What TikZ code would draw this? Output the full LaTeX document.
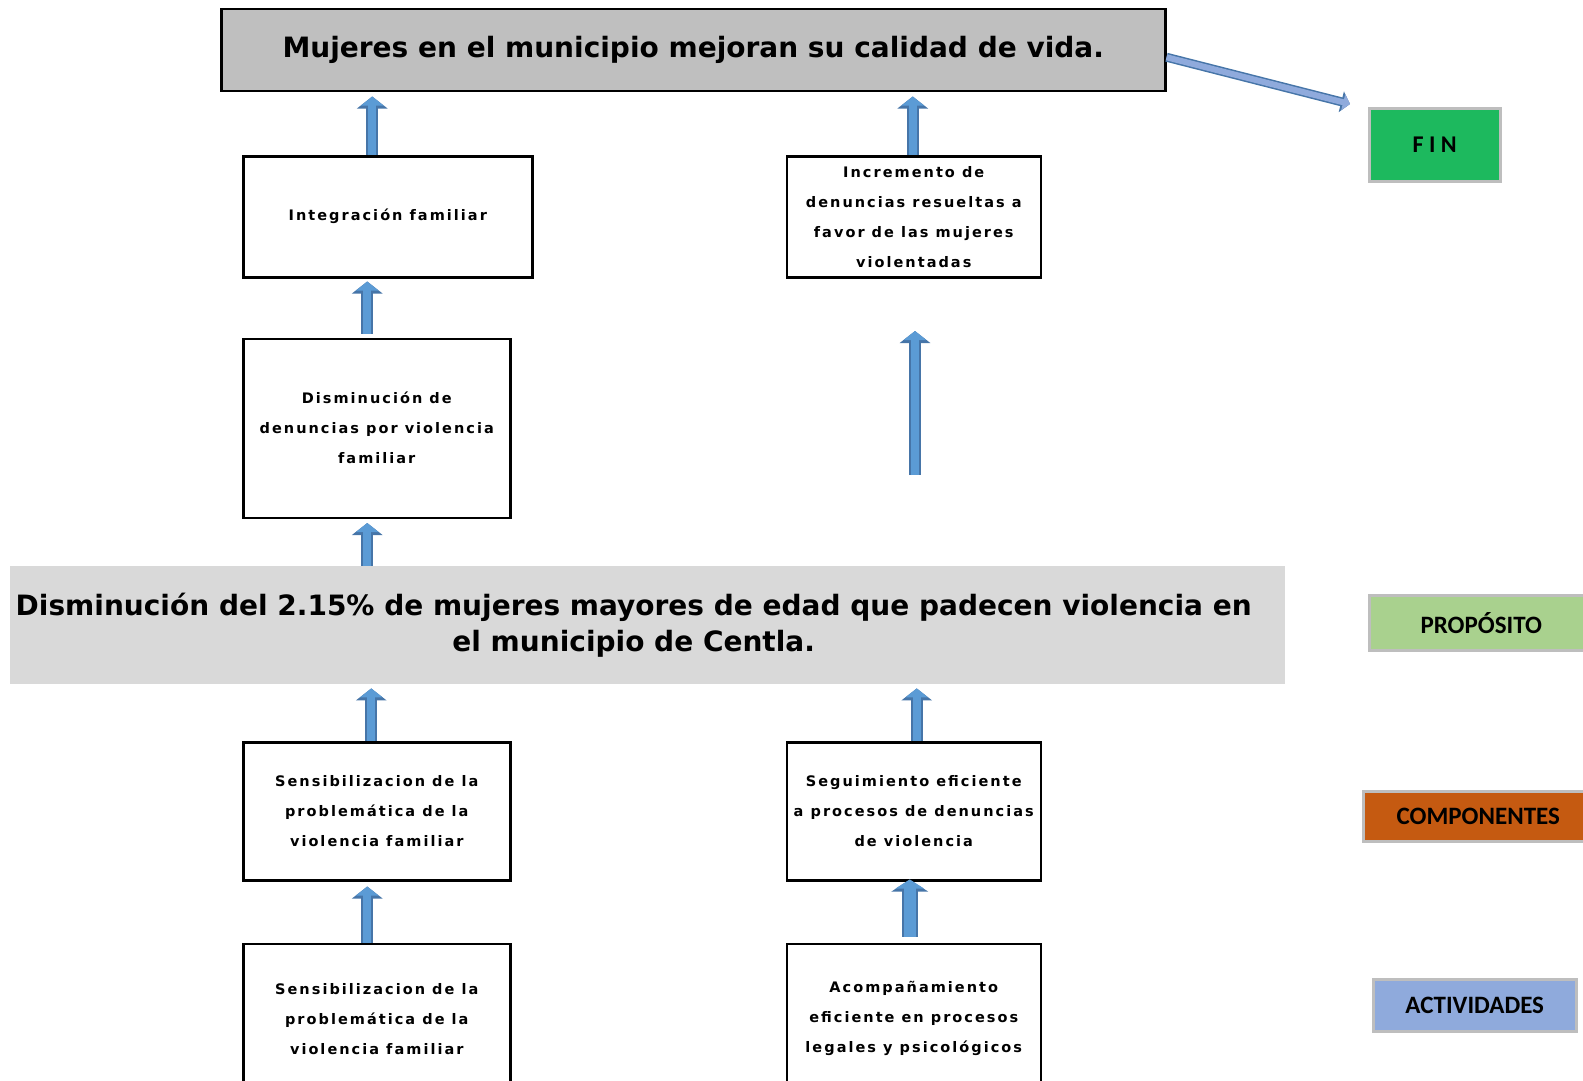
\documentclass[tikz,border=0pt]{standalone}
\usepackage{fontspec}
\usetikzlibrary{positioning}
\usetikzlibrary{arrows.meta}
\newfontfamily\boxfont{DejaVu Sans}[LetterSpace=14]
\newfontfamily\headfont{DejaVu Sans}
\newfontfamily\tagfont{Carlito}
\definecolor{goalgray}{RGB}{191,191,191}
\definecolor{purposegray}{RGB}{217,217,217}
\definecolor{tagborder}{RGB}{190,190,190}
\definecolor{fingreen}{RGB}{29,185,94}
\definecolor{propgreen}{RGB}{169,209,142}
\definecolor{comporange}{RGB}{197,90,17}
\definecolor{actblue}{RGB}{143,170,220}
\definecolor{afill}{RGB}{91,155,213}
\definecolor{aedge}{RGB}{70,117,168}
\definecolor{dfill}{RGB}{143,170,220}

\begin{document}
\begin{tikzpicture}[x=1pt, y=-1pt,
    box/.style={draw, line width=2.5pt, fill=white, inner sep=0pt, align=center,
        font=\boxfont\bfseries\fontsize{14.5}{30}\selectfont},
    headbox/.style={inner sep=0pt, align=center, font=\headfont\bfseries\fontsize{28}{36}\selectfont},
    tag/.style={draw=tagborder, line width=2.5pt, inner sep=0pt, font=\tagfont\bfseries\fontsize{25}{30}\selectfont},
    arrow/.style={line width=8pt, draw=afill, -{Triangle[length=9pt,width=22pt]},
        preaction={draw=aedge, line width=12pt, -{Triangle[length=12pt,width=30pt]}}},
    widearrow/.style={line width=12pt, draw=afill, -{Triangle[length=9pt,width=28pt]},
        preaction={draw=aedge, line width=16pt, -{Triangle[length=12pt,width=36pt]}}},
    diagarrow/.style={line width=6pt, draw=dfill, -{Triangle[length=7pt,width=16pt]},
        preaction={draw=aedge, line width=9pt, -{Triangle[length=9pt,width=21pt]}}},
]
\useasboundingbox (0,0) rectangle (1583,1081);

% fin
\node[headbox, draw, line width=2.5pt, fill=goalgray, minimum width=944pt, minimum height=82pt, anchor=north west] (goal) at (220,8) {Mujeres en el municipio mejoran su calidad de vida.};
\node[box, minimum width=289pt, minimum height=121pt, anchor=north west] (integ) at (242,155) {Integración familiar};
\node[box, minimum width=254pt, minimum height=121pt, right=252pt of integ] (incr) {Incremento de\\denuncias resueltas a\\favor de las mujeres\\violentadas};
\node[box, minimum width=267pt, minimum height=179pt, below=59pt of integ.south west, anchor=north west] (dismin) {Disminución de\\denuncias por violencia\\familiar};

% proposito
\node[headbox, fill=purposegray, minimum width=1275pt, minimum height=118pt, anchor=north west] (purpose) at (10,566) {\hspace*{-28pt}Disminución del 2.15\% de mujeres mayores de edad que padecen violencia en\\\hspace*{-28pt}el municipio de Centla.};

% componentes y actividades
\node[box, minimum width=267pt, minimum height=138pt, anchor=north west] (sens1) at (242,741) {Sensibilizacion de la\\problemática de la\\violencia familiar};
\node[box, minimum width=254pt, minimum height=138pt, right=274pt of sens1] (segu) {Seguimiento eficiente\\a procesos de denuncias\\de violencia};
\node[box, minimum width=267pt, minimum height=150pt, below=61pt of sens1.south west, anchor=north west] (sens2) {Sensibilizacion de la\\problemática de la\\violencia familiar};
\node[box, minimum width=254pt, minimum height=150pt, right=274pt of sens2] (acomp) {Acompañamiento\\eficiente en procesos\\legales y psicológicos};

% etiquetas
\node[tag, fill=fingreen, minimum width=131pt, minimum height=73pt, anchor=north west, font=\tagfont\bfseries\fontsize{24}{28}\selectfont] (fin) at (1368,107) {F I N};
\node[tag, fill=propgreen, minimum width=224pt, minimum height=55pt, anchor=north west] (proplabel) at (1368,594) {PROPÓSITO};
\node[tag, fill=comporange, minimum width=230pt, minimum height=50pt, anchor=north west] (complabel) at (1362,790) {COMPONENTES};
\node[tag, fill=actblue, minimum width=203pt, minimum height=52pt, anchor=north west] (actlabel) at (1372,978) {ACTIVIDADES};

\coordinate (freestart) at (915,475);
\coordinate (freeend) at (915,331);

\draw[diagarrow] ([yshift=-7pt]goal.east) -- ([xshift=-18pt,yshift=3pt]fin.north west);
\draw[arrow] ([xshift=-15.5pt]integ.north) -- ([xshift=-15.5pt,yshift=-4pt]integ.north |- goal.south);
\draw[arrow] ([xshift=-1pt]incr.north) -- ([xshift=-1pt,yshift=-4pt]incr.north |- goal.south);
\draw[arrow] ([xshift=-9.5pt,yshift=4pt]dismin.north) -- ([xshift=-9.5pt,yshift=-3pt]dismin.north |- integ.south);
\draw[arrow] (freestart) -- (freeend);
\draw[arrow] ([xshift=-9.5pt]dismin.south |- purpose.north) -- ([xshift=-9.5pt,yshift=-4pt]dismin.south);
\draw[arrow] ([xshift=-5.5pt]sens1.north) -- ([xshift=-5.5pt,yshift=-4pt]sens1.north |- purpose.south);
\draw[arrow] ([xshift=3pt]segu.north) -- ([xshift=3pt,yshift=-4pt]segu.north |- purpose.south);
\draw[arrow] ([xshift=-9.5pt]sens2.north) -- ([xshift=-9.5pt,yshift=-5pt]sens1.south);
\draw[widearrow] ([xshift=-4pt,yshift=6pt]acomp.north) -- ([xshift=-4pt,yshift=2pt]segu.south);
\end{tikzpicture}
\end{document}
